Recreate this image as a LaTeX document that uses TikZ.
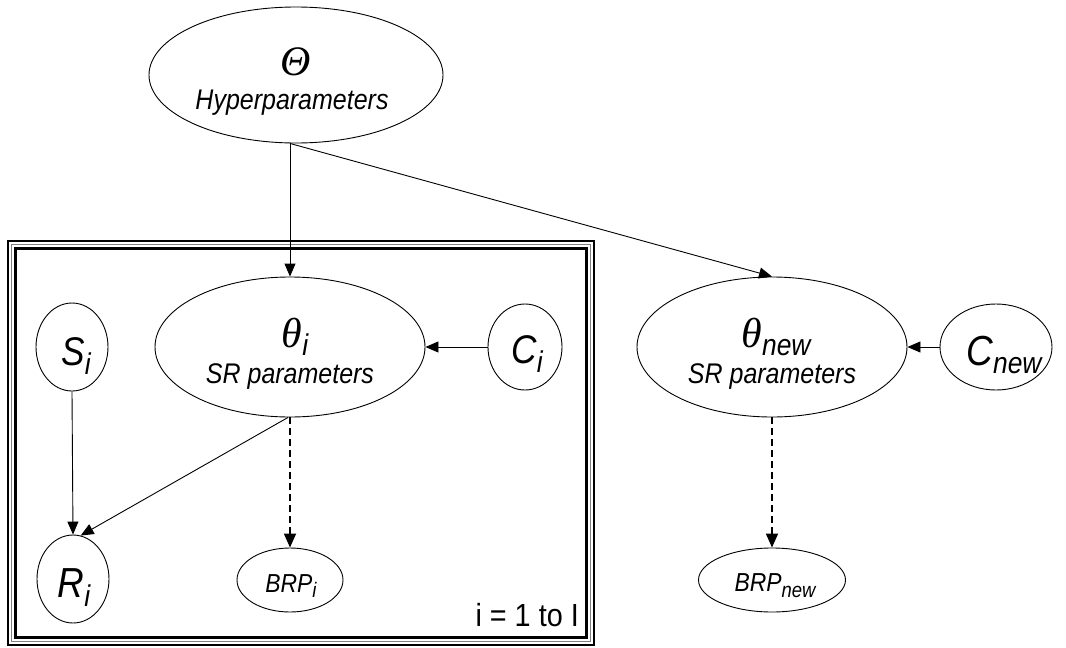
\documentclass[tikz,border=0pt]{standalone}
\usepackage{fontspec}
\setmainfont{Liberation Sans}
\newfontfamily\grkfont{Liberation Serif}
\usetikzlibrary{shapes.geometric,arrows.meta}
\newcommand\fsz[1]{\fontsize{#1}{#1}\selectfont}
\newcommand\sq[1]{\scalebox{0.88}[1]{#1}}
\newcommand\mysub[3]{\raisebox{-#2pt}{\fsz{#1}\itshape #3}}
\begin{document}
\begin{tikzpicture}[x=1pt,y=-1pt,
  ell/.style={draw, ellipse, inner sep=0pt, line width=0.9pt},
  lbl/.style={inner sep=0pt, anchor=base},
  arr/.style={line width=0.9pt, -{Triangle[length=13pt,width=11pt]}},
  darr/.style={line width=1.8pt, dash pattern=on 7pt off 4pt, -{Triangle[length=14pt,width=12pt]}}]
\useasboundingbox[fill=white] (0,0) rectangle (1066,648);

% plate
\draw[line width=2.6pt] (8,241) rectangle (594,645);
\draw[line width=0.9pt, gray] (11.8,244.8) rectangle (590.2,641.2);
\draw[line width=2.6pt] (15.6,248.6) rectangle (586.4,637.4);

% ellipses
\node[ell, minimum width=294pt, minimum height=136pt] (Theta) at (296,75) {};
\node[ell, minimum width=270pt, minimum height=140pt] (thetai) at (290,347) {};
\node[ell, minimum width=72pt, minimum height=88pt] (Si) at (72,347) {};
\node[ell, minimum width=74pt, minimum height=86pt] (Ci) at (525,347) {};
\node[ell, minimum width=72pt, minimum height=88pt] (Ri) at (73,579) {};
\node[ell, minimum width=106pt, minimum height=64pt] (BRPi) at (290,580) {};
\node[ell, minimum width=270pt, minimum height=140pt] (thetanew) at (772,347) {};
\node[ell, minimum width=112pt, minimum height=86pt] (Cnew) at (996,347) {};
\node[ell, minimum width=147pt, minimum height=64pt] (BRPnew) at (772,580) {};

% labels
\node[lbl] (ThetaSym) at (296,75) {\grkfont\fsz{42}\itshape Θ};
\node[lbl] (ThetaTxt) at (292,109) {\sq{\fsz{28.4}\itshape Hyperparameters}};
\node[lbl] (thetaiSym) at (295,347) {{\grkfont\fsz{42}\itshape θ}\sq{\mysub{30}{8}{i}}};
\node[lbl] (thetaiTxt) at (290,383) {\sq{\fsz{28.4}\itshape SR parameters}};
\node[lbl] (SiTxt) at (76,365) {\sq{{\fsz{40}\itshape S}\mysub{30}{9}{i}}};
\node[lbl] (CiTxt) at (527,363) {\sq{{\fsz{40}\itshape C}\mysub{30}{9}{i}}};
\node[lbl] (RiTxt) at (74,597) {\sq{{\fsz{42}\itshape R}\mysub{30}{9}{i}}};
\node[lbl] (BRPiTxt) at (291,592) {\sq{{\fsz{26}\itshape BRP}\mysub{21}{5}{i}}};
\node[lbl] (thetanewSym) at (776,347) {{\grkfont\fsz{42}\itshape θ}\sq{\mysub{30}{8}{new}}};
\node[lbl] (thetanewTxt) at (772,383) {\sq{\fsz{28.4}\itshape SR parameters}};
\node[lbl] (CnewTxt) at (1004,365) {\sq{{\fsz{42}\itshape C}\mysub{30}{8}{new}}};
\node[lbl] (BRPnewTxt) at (775,591) {\sq{{\fsz{26}\itshape BRP}\mysub{21}{6}{new}}};
\node[inner sep=0pt, anchor=base east] (plateTxt) at (579,626) {\scalebox{0.9}[1]{\fsz{32}i = 1 to I}};

% connectors
\draw[arr] ([xshift=-6pt]Theta.south) -- (thetai.north);
\draw[arr] ([xshift=-6pt]Theta.south) -- (thetanew.north);
\draw[arr] (Ci.west) -- (thetai.east);
\draw[arr] (Cnew.west) -- (thetanew.east);
\draw[arr] (Si.south) -- (Ri.north);
\draw[arr] ([xshift=-2pt]thetai.south) -- (Ri.80);
\draw[darr] (thetai.south) -- (BRPi.north);
\draw[darr] (thetanew.south) -- (BRPnew.north);
\end{tikzpicture}
\end{document}
